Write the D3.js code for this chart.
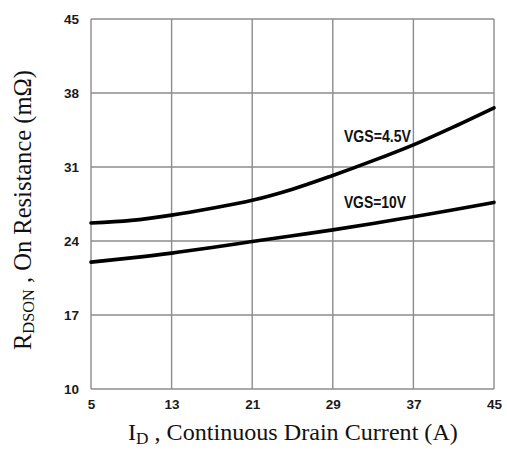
<!DOCTYPE html>
<html>
<head>
<meta charset="utf-8">
<script src="https://cdn.jsdelivr.net/npm/d3@7"></script>
<style>
  html, body { margin: 0; padding: 0; background: #fff; }
  svg { display: block; }
</style>
</head>
<body>
<div id="chart"></div>
<script>
// Drain current (A) sample points
const drainCurrent = [5, 9, 13, 17, 21, 25, 29, 33, 37, 41, 45];
// On-resistance (mΩ) for each gate drive
const rdsVgs45 = [25.7, 25.95, 26.45, 27.1, 27.85, 28.9, 30.2, 31.6, 33.1, 34.8, 36.6];
const rdsVgs10 = [22.0, 22.4, 22.85, 23.38, 23.95, 24.5, 25.05, 25.65, 26.3, 26.95, 27.65];
const seriesLabels = ["VGS=4.5V", "VGS=10V"];
const xTicks = [5, 13, 21, 29, 37, 45];
const yTicks = [10, 17, 24, 31, 38, 45];

const width = 507, height = 450;
const margin = { left: 91, right: 13, top: 19, bottom: 61 };

const svg = d3.select("#chart").append("svg")
  .attr("width", width).attr("height", height);

const x = d3.scaleLinear().domain([5, 45]).range([margin.left, width - margin.right]);
const y = d3.scaleLinear().domain([10, 45]).range([height - margin.bottom, margin.top]);

const gridColor = "#8c8c8c";

// Grid and frame
const grid = svg.append("g");
grid.selectAll("line.v").data(xTicks).join("line")
  .attr("x1", d => x(d)).attr("x2", d => x(d))
  .attr("y1", y(10)).attr("y2", y(45))
  .attr("stroke", gridColor).attr("stroke-width", 1.4);
grid.selectAll("line.h").data(yTicks).join("line")
  .attr("y1", d => y(d)).attr("y2", d => y(d))
  .attr("x1", x(5)).attr("x2", x(45))
  .attr("stroke", gridColor).attr("stroke-width", 1.4);

// Axes (labels only)
const xAxis = svg.append("g")
  .attr("transform", `translate(0,${y(10)})`)
  .call(d3.axisBottom(x).tickValues(xTicks).tickSize(0).tickPadding(10));
const yAxis = svg.append("g")
  .attr("transform", `translate(${x(5)},0)`)
  .call(d3.axisLeft(y).tickValues(yTicks).tickSize(0).tickPadding(12));
[xAxis, yAxis].forEach(a => {
  a.select(".domain").remove();
  a.selectAll("text")
    .attr("font-family", "Liberation Sans, Arial, sans-serif")
    .attr("font-weight", "bold")
    .attr("font-size", 13.5)
    .attr("fill", "#1a1a1a");
});

// Curves
const line = d3.line().x(d => x(d[0])).y(d => y(d[1])).curve(d3.curveMonotoneX);
[rdsVgs45, rdsVgs10].forEach(vals => {
  svg.append("path")
    .datum(drainCurrent.map((c, i) => [c, vals[i]]))
    .attr("d", line)
    .attr("fill", "none")
    .attr("stroke", "#000")
    .attr("stroke-width", 3.6)
    .attr("stroke-linecap", "round");
});

// Curve labels
const labelPos = [[x(30.1), y(33.39)], [x(30.1), y(27.12)]];
seriesLabels.forEach((t, i) => {
  svg.append("text")
    .attr("x", labelPos[i][0]).attr("y", labelPos[i][1])
    .attr("font-family", "Liberation Sans, Arial, sans-serif")
    .attr("font-weight", "bold")
    .attr("font-size", 16)
    .attr("textLength", i === 0 ? 67 : 62)
    .attr("lengthAdjust", "spacingAndGlyphs")
    .attr("fill", "#111")
    .text(t);
});

// Axis titles, sized to span their target length
function fitTitle(sel, targetLen, base, sub) {
  const len = sel.node().getComputedTextLength();
  const k = targetLen / len;
  sel.attr("font-size", base * k);
  sel.selectAll("tspan.sub").attr("font-size", sub * k);
}

const xt = svg.append("text")
  .attr("x", 128).attr("y", 440)
  .attr("font-family", "Liberation Serif, Times New Roman, serif")
  .attr("font-size", 21)
  .attr("fill", "#111");
xt.append("tspan").text("I");
xt.append("tspan").attr("class", "sub").attr("font-size", 15).attr("dy", 4).text("D");
xt.append("tspan").attr("dy", -4).text(" , Continuous Drain Current (A)");
fitTitle(xt, 330, 21, 15);

const yt = svg.append("text")
  .attr("transform", `translate(31,350) rotate(-90)`)
  .attr("font-family", "Liberation Serif, Times New Roman, serif")
  .attr("font-size", 21)
  .attr("fill", "#111");
yt.append("tspan").text("R");
yt.append("tspan").attr("class", "sub").attr("font-size", 14).attr("dy", 3).text("DSON");
yt.append("tspan").attr("dy", -3).text(" , On Resistance (mΩ)");
fitTitle(yt, 280, 21, 14);
</script>
</body>
</html>
